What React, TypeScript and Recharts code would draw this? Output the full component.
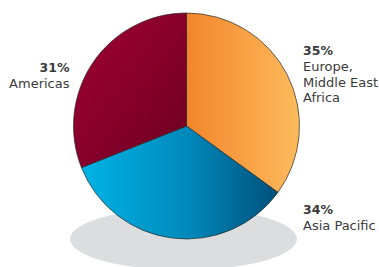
import React from 'react'
import { PieChart, Pie, Cell } from 'recharts'

const regions = ['Europe, Middle East Africa', 'Asia Pacific', 'Americas']
const shares = [35, 34, 31]
const labelLines = [['Europe,', 'Middle East', 'Africa'], ['Asia Pacific'], ['Americas']]

const data = regions.map((name, i) => ({ name, value: shares[i] }))

const fills = ['url(#gradEurope)', 'url(#gradAsia)', 'url(#gradAmericas)']

// label anchor points, relative to the pie centre
const labelPos = [
  { dx: 116.5, dy: -71, anchor: 'start' },
  { dx: 116.5, dy: 88, anchor: 'start' },
  { dx: -117, dy: -54, anchor: 'end' },
]

const FONT = '"DejaVu Sans", sans-serif'

const renderLabel = (props: any) => {
  const { cx, cy, index } = props
  const p = labelPos[index]
  const x = cx + p.dx
  const y = cy + p.dy
  return (
    <text x={x} y={y} textAnchor={p.anchor} fontFamily={FONT} fontSize={13} fill="#3a3a3a">
      <tspan x={x} fontWeight={700} fontSize={12.5}>{shares[index]}%</tspan>
      {labelLines[index].map((line, k) => (
        <tspan key={k} x={x} dy={k === 0 ? 16 : 15.5}>{line}</tspan>
      ))}
    </text>
  )
}

const App: React.FC = () => {
  return (
    <div style={{ position: 'absolute', left: 0, top: 0, width: 379, height: 267, background: '#fff', overflow: 'hidden' }}>
      <div
        style={{
          position: 'absolute',
          left: 70,
          top: 208,
          width: 227,
          height: 62,
          borderRadius: '50%',
          background: '#dcdddf',
        }}
      />
      <div style={{ position: 'absolute', left: 0, top: 0 }}>
        <PieChart width={379} height={267} margin={{ top: 0, right: 0, bottom: 0, left: 0 }}>
          <defs>
            <linearGradient id="gradEurope" x1="0" y1="0" x2="1" y2="0">
              <stop offset="0%" stopColor="#f3852c" />
              <stop offset="100%" stopColor="#fdbb5c" />
            </linearGradient>
            <linearGradient id="gradAsia" x1="0" y1="0" x2="1" y2="0">
              <stop offset="0%" stopColor="#00b4e6" />
              <stop offset="55%" stopColor="#0088ba" />
              <stop offset="100%" stopColor="#00507b" />
            </linearGradient>
            <linearGradient id="gradAmericas" x1="0" y1="0" x2="1" y2="1">
              <stop offset="0%" stopColor="#a00035" />
              <stop offset="100%" stopColor="#6e0022" />
            </linearGradient>
          </defs>
          <Pie
            data={data}
            dataKey="value"
            nameKey="name"
            cx={186.5}
            cy={126}
            outerRadius={113}
            startAngle={90}
            endAngle={-270}
            stroke="#2a2a2a"
            strokeWidth={0.7}
            label={renderLabel}
            labelLine={false}
            isAnimationActive={false}
          >
            {data.map((d, i) => (
              <Cell key={d.name} fill={fills[i]} />
            ))}
          </Pie>
        </PieChart>
      </div>
    </div>
  )
}

export default App
